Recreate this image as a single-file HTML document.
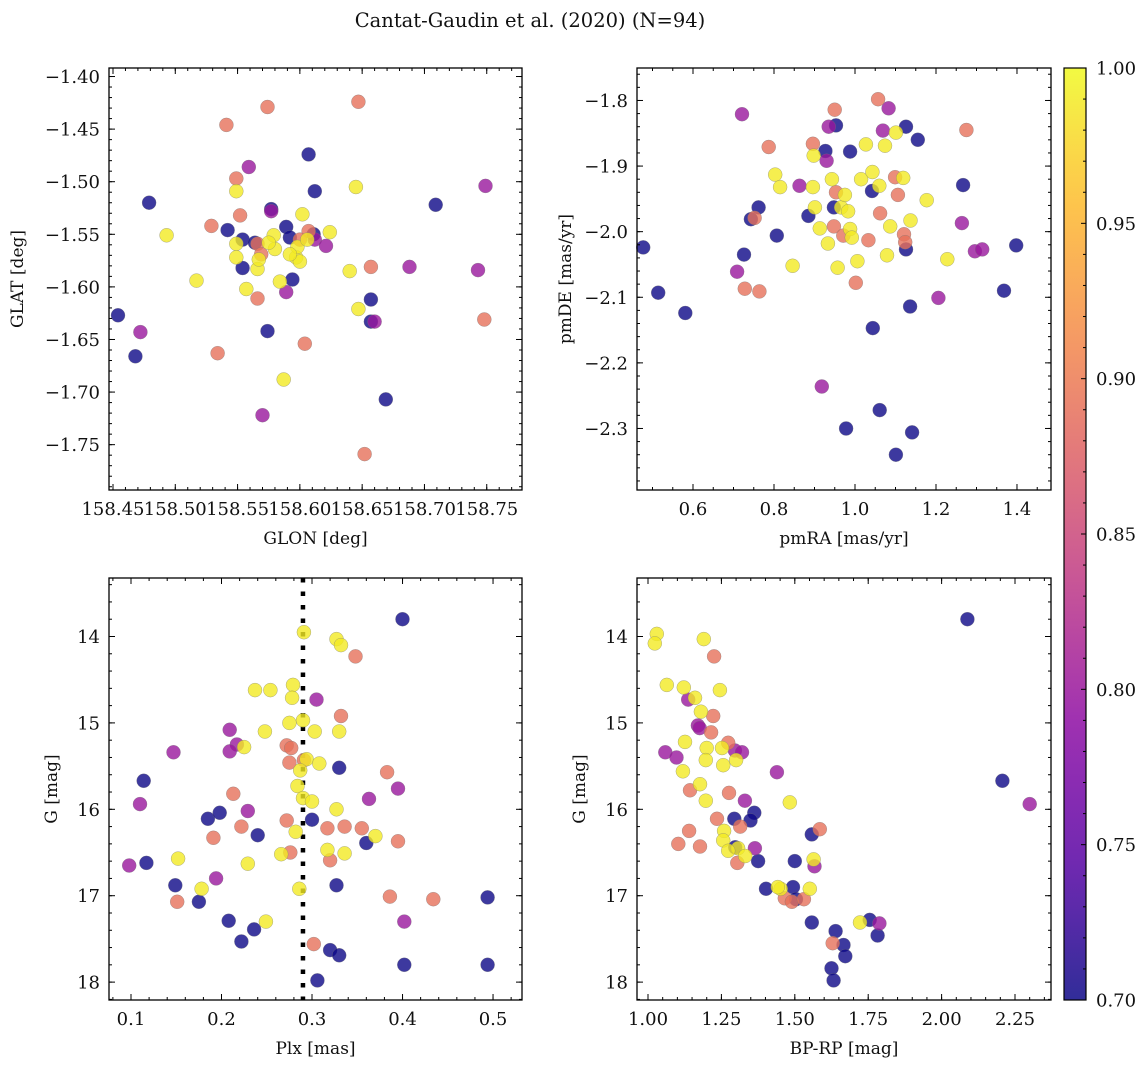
<!DOCTYPE html>
<html><head><meta charset="utf-8"><style>
body{margin:0;background:#fff}
svg{display:block}
text{font-family:"DejaVu Serif","Liberation Serif",serif;fill:#111}
</style></head><body>
<svg id="fig" width="1148" height="1067" viewBox="0 0 1148 1067" xmlns="http://www.w3.org/2000/svg">
<text x="530" y="27" text-anchor="middle" font-size="19.5">Cantat-Gaudin et al. (2020) (N=94)</text>
</svg>
<script>
// ---------- Panel 1: GLON / GLAT ----------
const p1x=[158.454,158.468,158.479,158.542,158.554,158.554,158.564,158.574,158.577,158.589,158.592,158.594,158.607,158.612,158.611,158.657,158.657,158.669,158.709,
158.472,158.559,158.589,158.612,158.621,158.660,158.688,158.743,158.749,158.577,158.570,
158.541,158.529,158.549,158.552,158.574,158.566,158.534,158.604,158.647,158.652,158.657,158.748,158.607,158.566,158.600,158.569,
158.493,158.517,158.549,158.549,158.549,158.557,158.566,158.567,158.580,158.584,158.587,158.597,158.598,158.600,158.602,158.606,158.624,158.640,158.645,158.647,158.579,158.592,158.575];
const p1y=[-1.627,-1.666,-1.520,-1.546,-1.582,-1.555,-1.558,-1.642,-1.526,-1.543,-1.553,-1.593,-1.474,-1.509,-1.550,-1.612,-1.633,-1.707,-1.522,
-1.643,-1.486,-1.605,-1.555,-1.561,-1.633,-1.581,-1.584,-1.504,-1.528,-1.722,
-1.446,-1.542,-1.497,-1.532,-1.429,-1.611,-1.663,-1.654,-1.424,-1.759,-1.581,-1.631,-1.547,-1.559,-1.555,-1.569,
-1.551,-1.594,-1.509,-1.559,-1.572,-1.602,-1.583,-1.574,-1.564,-1.595,-1.688,-1.572,-1.562,-1.576,-1.531,-1.555,-1.548,-1.585,-1.505,-1.621,-1.551,-1.569,-1.558];
const p1p=[0.70,0.70,0.70,0.70,0.70,0.70,0.70,0.70,0.70,0.70,0.70,0.70,0.70,0.70,0.70,0.70,0.70,0.70,0.70,
0.80,0.80,0.80,0.80,0.80,0.80,0.80,0.80,0.80,0.80,0.80,
0.89,0.89,0.89,0.89,0.89,0.89,0.89,0.89,0.89,0.89,0.89,0.89,0.89,0.89,0.89,0.89,
0.99,0.99,0.99,0.99,0.99,0.99,0.99,0.99,0.99,0.99,0.99,0.99,0.99,0.99,0.99,0.99,0.99,0.99,0.99,0.99,0.99,0.99,0.99];
// ---------- Panel 2: pmRA / pmDE ----------
const p2x=[0.477,0.514,0.581,0.726,0.743,0.762,0.807,0.885,0.927,0.948,0.953,0.988,1.042,1.044,1.061,0.978,1.101,1.141,1.126,1.155,1.126,1.136,1.267,1.398,1.368,
0.721,0.709,0.863,0.935,0.930,0.918,1.083,1.069,1.206,1.264,1.296,1.314,
0.728,0.764,0.787,0.896,0.950,0.953,0.948,0.971,1.002,1.057,1.062,1.099,1.106,1.121,1.124,1.275,1.033,0.752,
0.803,0.815,0.846,0.896,0.898,0.901,0.913,0.933,0.943,0.957,0.966,0.975,0.983,0.988,0.992,1.006,1.015,1.027,1.043,1.060,1.074,1.079,1.087,1.101,1.119,1.137,1.177,1.228];
const p2y=[-2.024,-2.093,-2.124,-2.035,-1.981,-1.963,-2.006,-1.976,-1.877,-1.963,-1.838,-1.878,-1.938,-2.147,-2.272,-2.300,-2.340,-2.306,-1.840,-1.860,-2.027,-2.114,-1.929,-2.021,-2.090,
-1.821,-2.061,-1.930,-1.840,-1.892,-2.236,-1.812,-1.846,-2.101,-1.987,-2.030,-2.027,
-2.087,-2.091,-1.871,-1.866,-1.814,-1.940,-1.992,-2.006,-2.078,-1.798,-1.972,-1.917,-1.944,-2.004,-2.016,-1.845,-2.013,-1.979,
-1.913,-1.932,-2.052,-1.932,-1.884,-1.963,-1.995,-2.018,-1.920,-2.055,-1.963,-1.944,-1.969,-1.996,-2.009,-2.045,-1.920,-1.867,-1.909,-1.930,-1.869,-2.036,-1.992,-1.849,-1.918,-1.983,-1.952,-2.042];
const p2p=[0.70,0.70,0.70,0.70,0.70,0.70,0.70,0.70,0.70,0.70,0.70,0.70,0.70,0.70,0.70,0.70,0.70,0.70,0.70,0.70,0.70,0.70,0.70,0.70,0.70,
0.80,0.80,0.80,0.80,0.80,0.80,0.80,0.80,0.80,0.80,0.80,0.80,
0.89,0.89,0.89,0.89,0.89,0.89,0.89,0.89,0.89,0.89,0.89,0.89,0.89,0.89,0.89,0.89,0.89,0.89,
0.99,0.99,0.99,0.99,0.99,0.99,0.99,0.99,0.99,0.99,0.99,0.99,0.99,0.99,0.99,0.99,0.99,0.99,0.99,0.99,0.99,0.99,0.99,0.99,0.99,0.99,0.99,0.99];
// ---------- Panel 3: Plx / G ----------
const p3x=[0.114,0.117,0.149,0.175,0.185,0.198,0.208,0.222,0.236,0.240,0.300,0.306,0.320,0.330,0.330,0.327,0.360,0.402,0.494,0.494,0.400,
0.110,0.098,0.147,0.194,0.217,0.209,0.229,0.209,0.305,0.363,0.395,0.402,
0.151,0.191,0.222,0.213,0.272,0.275,0.277,0.302,0.317,0.320,0.332,0.336,0.348,0.355,0.383,0.386,0.395,0.434,0.276,0.272,0.291,
0.152,0.178,0.225,0.237,0.254,0.248,0.279,0.278,0.275,0.284,0.282,0.266,0.291,0.294,0.290,0.286,0.300,0.303,0.308,0.327,0.332,0.330,0.317,0.336,0.370,0.327,0.249,0.229,0.290,0.287];
const p3y=[15.67,16.62,16.88,17.07,16.11,16.04,17.29,17.53,17.39,16.30,16.12,17.98,17.63,17.69,15.52,16.88,16.39,17.80,17.80,17.02,13.80,
15.94,16.65,15.34,16.80,15.25,15.08,16.02,15.33,14.73,15.88,15.76,17.30,
17.07,16.33,16.20,15.82,15.26,15.46,15.29,17.56,16.22,16.59,14.92,16.20,14.23,16.22,15.57,17.01,16.37,17.04,16.50,16.13,15.43,
16.57,16.92,15.28,14.62,14.62,15.10,14.56,14.71,15.00,15.73,16.26,16.52,13.95,15.42,15.87,16.92,15.91,15.10,15.47,14.03,14.10,15.10,16.47,16.51,16.31,16.00,17.30,16.63,14.97,15.55];
const p3p=[0.70,0.70,0.70,0.70,0.70,0.70,0.70,0.70,0.70,0.70,0.70,0.70,0.70,0.70,0.70,0.70,0.70,0.70,0.70,0.70,0.70,
0.80,0.80,0.80,0.80,0.80,0.80,0.80,0.80,0.80,0.80,0.80,0.80,
0.89,0.89,0.89,0.89,0.89,0.89,0.89,0.89,0.89,0.89,0.89,0.89,0.89,0.89,0.89,0.89,0.89,0.89,0.89,0.89,0.89,
0.99,0.99,0.99,0.99,0.99,0.99,0.99,0.99,0.99,0.99,0.99,0.99,0.99,0.99,0.99,0.99,0.99,0.99,0.99,0.99,0.99,0.99,0.99,0.99,0.99,0.99,0.99,0.99,0.99,0.99];
const plxCut=0.290;
// ---------- Panel 4: BP-RP / G ----------
const p4x=[2.088,2.207,1.625,1.632,1.639,1.666,1.672,1.558,1.500,1.494,1.504,1.402,1.375,1.558,1.362,1.349,1.294,1.297,1.755,1.782,
1.059,1.097,1.170,1.176,1.296,1.320,1.330,1.364,1.439,1.788,1.567,2.300,1.137,
1.103,1.140,1.143,1.225,1.222,1.215,1.235,1.276,1.304,1.314,1.466,1.490,1.531,1.585,1.629,1.273,1.177,
1.030,1.023,1.064,1.122,1.160,1.190,1.180,1.200,1.197,1.126,1.119,1.177,1.197,1.245,1.252,1.256,1.300,1.307,1.259,1.256,1.273,1.452,1.551,1.564,1.442,1.483,1.722,1.331];
const p4y=[13.80,15.67,17.84,17.98,17.41,17.57,17.70,17.31,16.60,16.90,17.04,16.92,16.60,16.29,16.04,16.13,16.11,16.44,17.28,17.46,
15.34,15.40,15.03,15.06,15.32,15.34,15.90,16.45,15.57,17.32,16.66,15.94,14.73,
16.40,16.25,15.78,14.23,14.92,15.11,16.11,15.81,16.62,16.20,17.03,17.07,17.04,16.23,17.55,15.23,16.43,
13.97,14.08,14.56,14.59,14.71,14.03,14.87,15.29,15.43,15.22,15.56,15.71,15.90,14.62,15.29,15.49,15.43,16.45,16.25,16.36,16.48,16.92,16.92,16.58,16.90,15.92,17.31,16.54];
const p4p=[0.70,0.70,0.70,0.70,0.70,0.70,0.70,0.70,0.70,0.70,0.70,0.70,0.70,0.70,0.70,0.70,0.70,0.70,0.70,0.70,
0.80,0.80,0.80,0.80,0.80,0.80,0.80,0.80,0.80,0.80,0.80,0.80,0.80,
0.89,0.89,0.89,0.89,0.89,0.89,0.89,0.89,0.89,0.89,0.89,0.89,0.89,0.89,0.89,0.89,0.89,
0.99,0.99,0.99,0.99,0.99,0.99,0.99,0.99,0.99,0.99,0.99,0.99,0.99,0.99,0.99,0.99,0.99,0.99,0.99,0.99,0.99,0.99,0.99,0.99,0.99,0.99,0.99,0.99];
// colorbar ticks
const cbTicks=[0.70,0.75,0.80,0.85,0.90,0.95,1.00];

const NS="http://www.w3.org/2000/svg";
const svg=document.getElementById('fig');
function el(tag,attrs,parent){const e=document.createElementNS(NS,tag);for(const k in attrs)e.setAttribute(k,attrs[k]);(parent||svg).appendChild(e);return e;}
const stops=[[0,[13,8,135]],[0.14,[84,2,163]],[0.29,[139,10,165]],[0.43,[185,50,137]],[0.57,[219,92,104]],[0.71,[244,136,73]],[0.86,[254,188,43]],[1,[240,249,33]]];
function plasma(t){t=Math.max(0,Math.min(1,t));for(let i=1;i<stops.length;i++){if(t<=stops[i][0]){const a=stops[i-1],b=stops[i];const f=(t-a[0])/(b[0]-a[0]);const c=a[1].map((v,j)=>Math.round(v+(b[1][j]-v)*f));return `rgb(${c[0]},${c[1]},${c[2]})`;}}return 'rgb(240,249,33)';}
function pcol(p){return plasma((p-0.7)/0.3);}
function fmt(v,d){const s=Math.abs(v).toFixed(d);return (v<-1e-9?'\u2212':'')+s;}
const FS=18;

function panel(o){
  const g=el('g',{});
  
  
  const sx=v=>o.l+(v-o.xd[0])/(o.xd[1]-o.xd[0])*(o.r-o.l);
  const sy=v=>o.yInv? o.t+(v-o.yd[0])/(o.yd[1]-o.yd[0])*(o.b-o.t) : o.b-(v-o.yd[0])/(o.yd[1]-o.yd[0])*(o.b-o.t);
  if(o.vline!==undefined){
    const ln=el('line',{x1:sx(o.vline),x2:sx(o.vline),y1:o.t,y2:o.b,stroke:'#000','stroke-width':4.5,'stroke-dasharray':'4.5 9'},g);
    
    
  }
  for(let i=0;i<o.xs.length;i++){
    const c=el('circle',{cx:sx(o.xs[i]).toFixed(1),cy:sy(o.ys[i]).toFixed(1),r:7,fill:pcol(o.ps[i]),'fill-opacity':0.8,stroke:'#777','stroke-opacity':0.6,'stroke-width':0.5},g);
    
    
  }
  const tk=el('g',{stroke:'#000','stroke-width':1},g);
  
  
  function ticksX(step,len,labels){
    const n0=Math.ceil(o.xd[0]/step-1e-6),n1=Math.floor(o.xd[1]/step+1e-6);
    for(let n=n0;n<=n1;n++){const v=n*step,x=sx(v);
      el('line',{x1:x,x2:x,y1:o.b,y2:o.b-len},tk);el('line',{x1:x,x2:x,y1:o.t,y2:o.t+len},tk);
      if(labels){const t=el('text',{x:x,y:o.b+25,'text-anchor':'middle','font-size':FS,stroke:'none'},g);t.textContent=fmt(v,o.xdec);
        }}
  }
  function ticksY(step,len,labels){
    const lo=Math.min(o.yd[0],o.yd[1]),hi=Math.max(o.yd[0],o.yd[1]);
    const n0=Math.ceil(lo/step-1e-6),n1=Math.floor(hi/step+1e-6);
    for(let n=n0;n<=n1;n++){const v=n*step,y=sy(v);
      el('line',{x1:o.l,x2:o.l+len,y1:y,y2:y},tk);el('line',{x1:o.r,x2:o.r-len,y1:y,y2:y},tk);
      if(labels){const t=el('text',{x:o.l-9,y:y+6.5,'text-anchor':'end','font-size':FS,stroke:'none'},g);t.textContent=fmt(v,o.ydec);
        }}
  }
  ticksX(o.xmin,3,false);ticksX(o.xmaj,6,true);
  ticksY(o.ymin,3,false);ticksY(o.ymaj,6,true);
  const fr=el('rect',{x:o.l,y:o.t,width:o.r-o.l,height:o.b-o.t,fill:'none',stroke:'#000','stroke-width':1.3},g);
  
  const xl=el('text',{x:(o.l+o.r)/2,y:o.b+54,'text-anchor':'middle','font-size':17},g);xl.textContent=o.xlab;
  
  const yl=el('text',{x:o.ylx,y:(o.t+o.b)/2,'text-anchor':'middle','font-size':17,transform:`rotate(-90 ${o.ylx} ${(o.t+o.b)/2})`},g);yl.textContent=o.ylab;
  
}

panel({name:'glon-glat-panel',l:109,r:522,t:68,b:490,xd:[158.4468,158.7783],yd:[-1.7931,-1.3919],xs:p1x,ys:p1y,ps:p1p,
  xmaj:0.05,xmin:0.01,ymaj:0.05,ymin:0.01,xdec:2,ydec:2,xlab:'GLON [deg]',ylab:'GLAT [deg]',ylx:23});
panel({name:'proper-motion-panel',l:637,r:1051,t:68,b:490,xd:[0.4617,1.4840],yd:[-2.3938,-1.7505],xs:p2x,ys:p2y,ps:p2p,
  xmaj:0.2,xmin:0.05,ymaj:0.1,ymin:0.02,xdec:1,ydec:1,xlab:'pmRA [mas/yr]',ylab:'pmDE [mas/yr]',ylx:571});
panel({name:'plx-g-panel',l:109,r:522,t:578,b:1000,xd:[0.0757,0.5320],yd:[13.323,18.207],yInv:true,xs:p3x,ys:p3y,ps:p3p,vline:plxCut,
  xmaj:0.1,xmin:0.02,ymaj:1,ymin:0.2,xdec:1,ydec:0,xlab:'Plx [mas]',ylab:'G [mag]',ylx:57});
panel({name:'cmd-panel',l:637,r:1051,t:578,b:1000,xd:[0.9625,2.3726],yd:[13.323,18.207],yInv:true,xs:p4x,ys:p4y,ps:p4p,
  xmaj:0.25,xmin:0.05,ymaj:1,ymin:0.2,xdec:2,ydec:0,xlab:'BP-RP [mag]',ylab:'G [mag]',ylx:585});

(function(){
  const cb=el('g',{});
  
  
  const L=1064,R=1086,T=68,B=1000;
  const defs=el('defs',{},cb);
  const lg=el('linearGradient',{id:'pl',x1:0,y1:1,x2:0,y2:0},defs);
  for(let i=0;i<=20;i++){el('stop',{offset:i/20,'stop-color':plasma(i/20),'stop-opacity':0.85},lg);}
  el('rect',{x:L,y:T,width:R-L,height:B-T,fill:'url(#pl)',stroke:'#000','stroke-width':1.2},cb);
  const cy=v=>B-(v-0.7)/0.3*(B-T);
  for(let n=70;n<=100;n++){const v=n/100,y=cy(v);el('line',{x1:R,x2:R-(n%5===0?5:3),y1:y,y2:y,stroke:'#000'},cb);}
  cbTicks.forEach(v=>{const t=el('text',{x:R+10,y:cy(v)+6.5,'font-size':FS},cb);t.textContent=v.toFixed(2);
    });
})();
</script>
</body></html>
